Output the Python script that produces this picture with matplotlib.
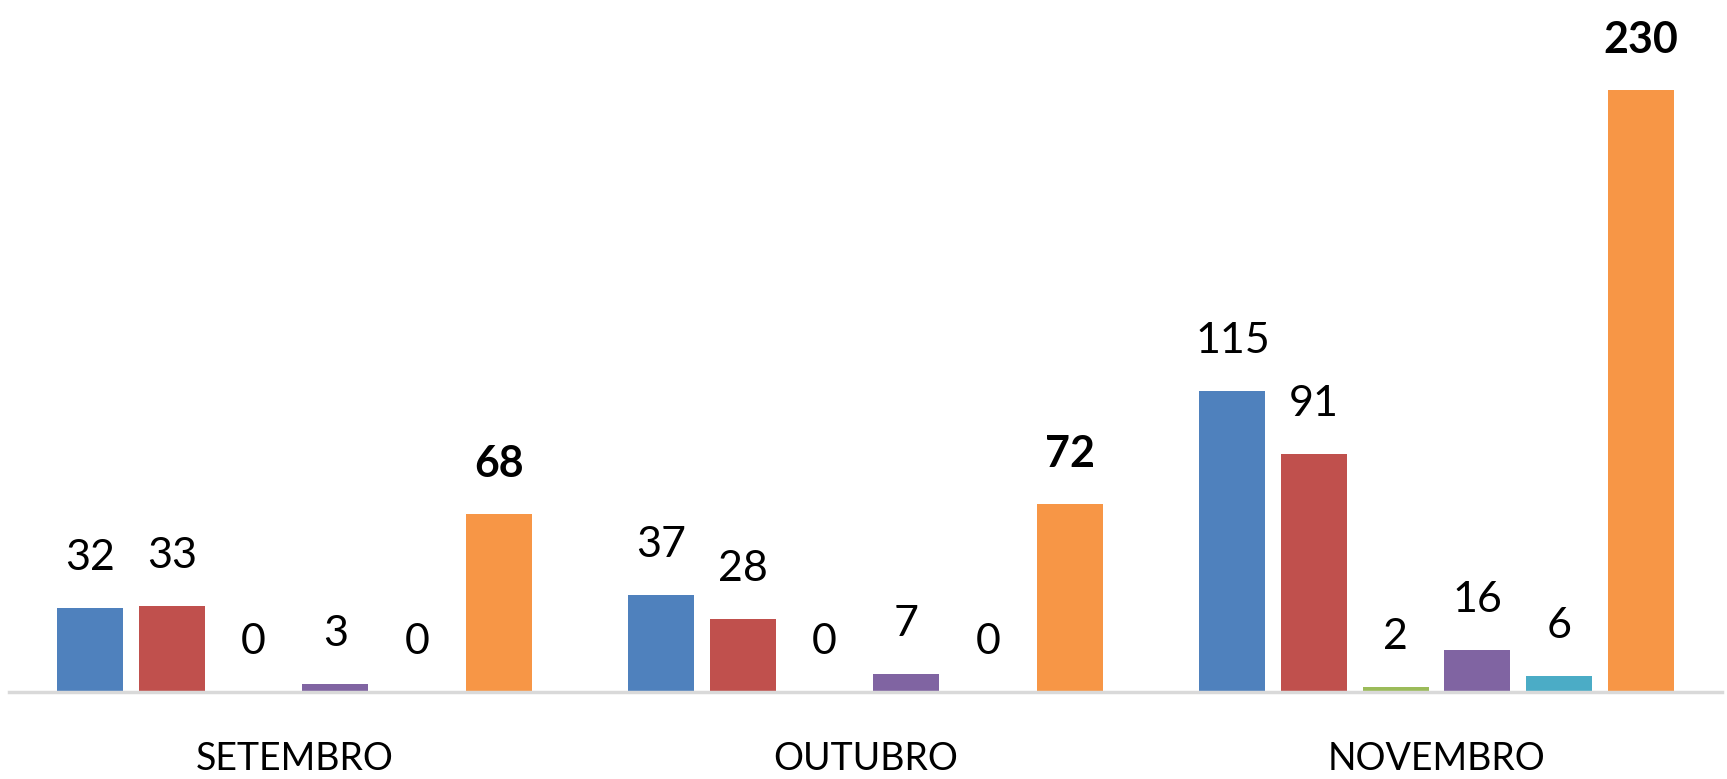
import numpy as np
import matplotlib.pyplot as plt

meses = ["SETEMBRO", "OUTUBRO", "NOVEMBRO"]
serie1 = [32, 37, 115]
serie2 = [33, 28, 91]
serie3 = [0, 0, 2]
serie4 = [3, 7, 16]
serie5 = [0, 0, 6]
total = [68, 72, 230]

series = [serie1, serie2, serie3, serie4, serie5, total]
cores = ["#4F81BD", "#C0504D", "#9BBB59", "#8064A2", "#4BACC6", "#F79646"]

plt.rcParams['font.family'] = ['Lato', 'DejaVu Sans']

W, H = 1727, 779
fig = plt.figure(figsize=(W / 100, H / 100), dpi=100)
ax = fig.add_axes([9 / W, (H - 692) / H, 1713 / W, 692 / H])

x = np.arange(len(meses))
passo = 0.143
largura = 0.116
for i, (vals, cor) in enumerate(zip(series, cores)):
    pos = x + (i - 2.5) * passo
    ax.bar(pos, vals, largura, color=cor, zorder=2)
    peso = 'bold' if i == len(series) - 1 else 'normal'
    for p, v in zip(pos, vals):
        ax.annotate(str(v), (p, v), xytext=(0, 36), textcoords='offset points',
                    ha='center', va='center', fontsize=31, fontweight=peso)

ax.set_xlim(-0.5, 2.5)
ax.set_ylim(0, 264.5)
for s in ['top', 'right', 'left']:
    ax.spines[s].set_visible(False)
ax.spines['bottom'].set_color('#D9D9D9')
ax.spines['bottom'].set_linewidth(2.5)
ax.set_yticks([])
ax.set_xticks(x)
ax.set_xticklabels(meses, fontsize=27)
ax.tick_params(axis='x', length=0, pad=35)

fig.savefig("out.png", dpi=100)
